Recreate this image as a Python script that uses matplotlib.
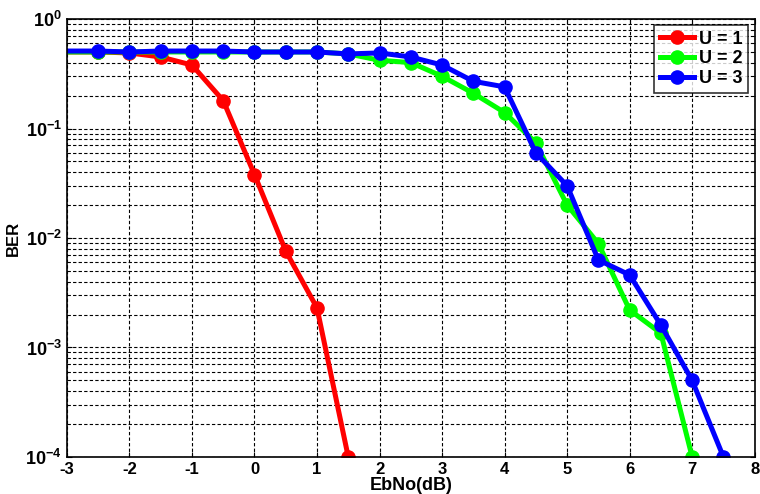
import numpy as np
import matplotlib
matplotlib.use('Agg')
import matplotlib.pyplot as plt
from matplotlib.ticker import LogLocator, FixedLocator, FuncFormatter

plt.rcParams['font.family'] = ['Liberation Sans', 'DejaVu Sans']
plt.rcParams['font.weight'] = 'bold'
plt.rcParams['mathtext.fontset'] = 'custom'
plt.rcParams['mathtext.rm'] = 'Liberation Sans:bold'
plt.rcParams['mathtext.bf'] = 'Liberation Sans:bold'

# EbNo grid (the first point lies left of the visible axis)
ebno_u1 = [-3.5, -2.5, -2, -1.5, -1, -0.5, 0, 0.5, 1, 1.5]
ber_u1 = [0.5, 0.5, 0.49, 0.45, 0.38, 0.18, 0.038, 0.0076, 0.0023, 1e-4]

ebno_u2 = [-3.5, -2.5, -2, -1.5, -1, -0.5, 0, 0.5, 1, 1.5, 2, 2.5, 3, 3.5,
           4, 4.5, 5, 5.5, 6, 6.5, 7]
ber_u2 = [0.5, 0.5, 0.5, 0.5, 0.5, 0.5, 0.5, 0.5, 0.5, 0.48, 0.42, 0.40,
          0.30, 0.21, 0.14, 0.074, 0.020, 0.0089, 0.0022, 0.00135, 1e-4]

ebno_u3 = [-3.5, -2.5, -2, -1.5, -1, -0.5, 0, 0.5, 1, 1.5, 2, 2.5, 3, 3.5,
           4, 4.5, 5, 5.5, 6, 6.5, 7, 7.5]
ber_u3 = [0.51, 0.51, 0.50, 0.51, 0.51, 0.51, 0.50, 0.50, 0.50, 0.48,
          0.49, 0.45, 0.38, 0.27, 0.24, 0.060, 0.030, 0.0063, 0.0046, 0.0016,
          0.0005, 1e-4]

fig = plt.figure(figsize=(7.6, 4.94), dpi=100)
ax = fig.add_axes([0.088, 0.075, 0.905, 0.8865])

style = dict(lw=3.6, marker='o', ms=9.5)
ax.semilogy(ebno_u1, ber_u1, color='#ff0000', label='U = 1', **style)
ax.semilogy(ebno_u2, ber_u2, color='#00ff00', label='U = 2', **style)
ax.semilogy(ebno_u3, ber_u3, color='#0000ff', label='U = 3', **style)

ax.set_xlim(-3, 8)
ax.set_ylim(1e-4, 1)
ax.xaxis.set_major_locator(FixedLocator(np.arange(-3, 9, 1)))
ax.yaxis.set_major_locator(LogLocator(base=10, numticks=10))
ax.yaxis.set_minor_locator(LogLocator(base=10, subs=np.arange(2, 10), numticks=20))
ax.yaxis.set_major_formatter(FuncFormatter(lambda v, p: r'$\mathbf{10^{%d}}$' % round(np.log10(v))))
ax.xaxis.set_major_formatter(FuncFormatter(lambda v, p: '%d' % v))

ax.grid(True, which='major', color='black', ls=(0, (3, 2)), lw=0.8)
ax.grid(True, which='minor', axis='y', color='black', ls=(0, (3, 2)), lw=0.8)
ax.tick_params(which='both', direction='in', top=True, right=True, labelsize=12)
ax.tick_params(axis='y', labelsize=13)
for s in ax.spines.values():
    s.set_linewidth(1.2)

ax.set_xlabel('EbNo(dB)', fontsize=13, fontweight='bold', labelpad=0)
ax.set_ylabel('BER', fontsize=12, fontweight='bold', labelpad=3)

leg = ax.legend(loc='upper right', fontsize=13, handlelength=1.9, frameon=True,
                fancybox=False, edgecolor='black', borderaxespad=0.35,
                borderpad=0.3, labelspacing=0.15, handletextpad=0.3)
leg.get_frame().set_linewidth(1.2)
for t in leg.get_texts():
    t.set_fontweight('bold')

fig.savefig('out.png', dpi=100)
